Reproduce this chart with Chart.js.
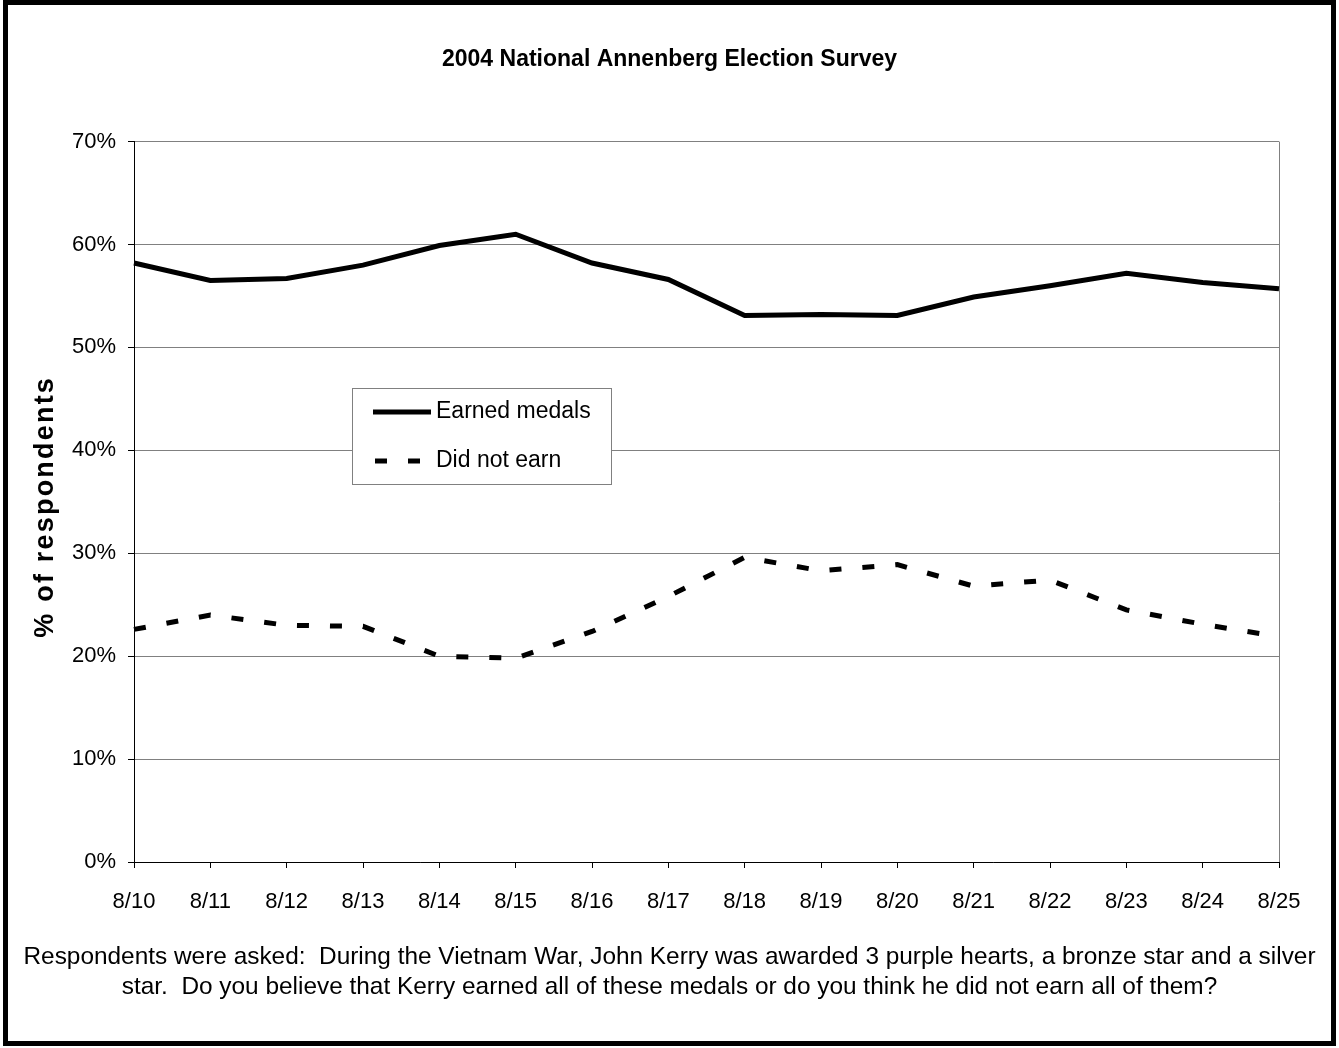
<!DOCTYPE html>
<html>
<head>
<meta charset="utf-8">
<title>2004 National Annenberg Election Survey</title>
<script src="https://cdn.jsdelivr.net/npm/chart.js@4/dist/chart.umd.min.js"></script>
<style>
  html, body { margin: 0; padding: 0; background: #fff; }
  canvas { display: block; }
</style>
</head>
<body>
<canvas id="chart" width="1339" height="1048"></canvas>
<script>
// Survey dates (August 2004)
const dates = ['8/10', '8/11', '8/12', '8/13', '8/14', '8/15', '8/16', '8/17',
               '8/18', '8/19', '8/20', '8/21', '8/22', '8/23', '8/24', '8/25'];

// Share of respondents (%) by answer
const earnedMedals = [58.2, 56.5, 56.7, 58.0, 59.9, 61.0, 58.2, 56.6,
                      53.1, 53.2, 53.1, 54.9, 56.0, 57.2, 56.3, 55.7];
const didNotEarn   = [22.6, 24.0, 23.0, 22.9, 20.0, 19.8, 22.4, 25.8,
                      29.6, 28.3, 28.9, 26.8, 27.4, 24.5, 23.1, 21.9];

const seriesLabels = ['Earned medals', 'Did not earn'];
const chartTitle = '2004 National Annenberg Election Survey';
const yAxisTitle = '% of respondents';
const questionText = [
  'Respondents were asked:  During the Vietnam War, John Kerry was awarded 3 purple hearts, a bronze star and a silver',
  'star.  Do you believe that Kerry earned all of these medals or do you think he did not earn all of them?'
];

const FONT = "'Liberation Sans', Arial, Helvetica, sans-serif";
Chart.defaults.font.family = FONT;
Chart.defaults.color = '#000';

// Boxed legend drawn inside the plot area
const insetLegend = {
  id: 'insetLegend',
  afterDatasetsDraw(chart) {
    const ctx = chart.ctx;
    const box = { x: 352.5, y: 388.5, w: 259, h: 96 };
    ctx.save();
    ctx.fillStyle = '#fff';
    ctx.fillRect(box.x, box.y, box.w, box.h);
    ctx.strokeStyle = '#808080';
    ctx.lineWidth = 1;
    ctx.strokeRect(box.x, box.y, box.w, box.h);
    ctx.font = '23px ' + FONT;
    ctx.textBaseline = 'middle';
    ctx.textAlign = 'left';
    const rows = [412, 461];
    chart.data.datasets.forEach((ds, i) => {
      const y = rows[i];
      ctx.beginPath();
      ctx.strokeStyle = ds.borderColor;
      ctx.lineWidth = ds.borderWidth;
      ctx.lineCap = 'butt';
      ctx.setLineDash(ds.borderDash || []);
      ctx.moveTo(i === 0 ? 373 : 375, y);
      ctx.lineTo(i === 0 ? 431 : 421, y);
      ctx.stroke();
      ctx.setLineDash([]);
      ctx.fillStyle = '#000';
      ctx.fillText(ds.label, 436, y);
    });
    ctx.restore();
  }
};

// Letter-spaced vertical title for the value axis
const valueAxisTitle = {
  id: 'valueAxisTitle',
  afterDraw(chart) {
    const ctx = chart.ctx;
    const area = chart.chartArea;
    ctx.save();
    ctx.translate(46, (area.top + area.bottom) / 2 + 5);
    ctx.rotate(-Math.PI / 2);
    ctx.font = 'bold 27px ' + FONT;
    if ('letterSpacing' in ctx) ctx.letterSpacing = '2.2px';
    ctx.fillStyle = '#000';
    ctx.textAlign = 'center';
    ctx.textBaseline = 'middle';
    ctx.fillText(yAxisTitle, 0, 0);
    ctx.restore();
  }
};

// Outer black frame around the whole figure
const outerFrame = {
  id: 'outerFrame',
  afterDraw(chart) {
    const ctx = chart.ctx;
    ctx.save();
    ctx.strokeStyle = '#000';
    ctx.lineWidth = 5;
    ctx.strokeRect(5.5, 2.5, 1328, 1041);
    ctx.restore();
  }
};

new Chart(document.getElementById('chart'), {
  type: 'line',
  data: {
    labels: dates,
    datasets: [
      {
        label: seriesLabels[0],
        data: earnedMedals,
        borderColor: '#000',
        borderWidth: 5,
        pointRadius: 0,
        tension: 0,
        fill: false
      },
      {
        label: seriesLabels[1],
        data: didNotEarn,
        borderColor: '#000',
        borderWidth: 5,
        borderDash: [12, 21],
        borderCapStyle: 'butt',
        pointRadius: 0,
        tension: 0,
        fill: false
      }
    ]
  },
  options: {
    responsive: false,
    devicePixelRatio: 1,
    animation: false,
    layout: { padding: 0 },
    plugins: {
      legend: { display: false },
      tooltip: { enabled: false },
      title: {
        display: true,
        text: chartTitle,
        color: '#000',
        font: { size: 23, weight: 'bold', family: FONT },
        padding: { top: 46, bottom: 68 }
      },
      subtitle: {
        display: true,
        position: 'bottom',
        text: questionText,
        color: '#000',
        font: { size: 24.4, family: FONT, lineHeight: '30px' },
        padding: { top: 20, bottom: 46 }
      }
    },
    scales: {
      x: {
        type: 'category',
        offset: false,
        afterFit(scale) { scale.height = 60; },
        grid: {
          display: true,
          drawOnChartArea: true,
          color: (c) => (c.index === dates.length - 1 ? '#808080' : 'rgba(0,0,0,0)'),
          tickColor: '#000',
          tickLength: 6,
          lineWidth: 1
        },
        border: { display: true, color: '#000', width: 1 },
        ticks: {
          color: '#000',
          font: { size: 22, family: FONT },
          padding: 21,
          maxRotation: 0,
          autoSkip: false
        }
      },
      y: {
        min: 0,
        max: 70,
        afterFit(scale) { scale.width = 134; },
        grid: {
          color: '#808080',
          tickColor: '#000',
          tickLength: 6,
          lineWidth: 1
        },
        border: { display: true, color: '#000', width: 1 },
        ticks: {
          stepSize: 10,
          color: '#000',
          font: { size: 22, family: FONT },
          padding: 12,
          callback: (v) => v + '%'
        }
      },
      // empty right-hand margin so titles centre on the full figure
      yMargin: {
        position: 'right',
        display: true,
        afterFit(scale) { scale.width = 60; },
        grid: { display: false, drawOnChartArea: false, drawTicks: false },
        border: { display: false },
        ticks: { display: false }
      }
    }
  },
  plugins: [insetLegend, valueAxisTitle, outerFrame]
});
</script>
</body>
</html>
